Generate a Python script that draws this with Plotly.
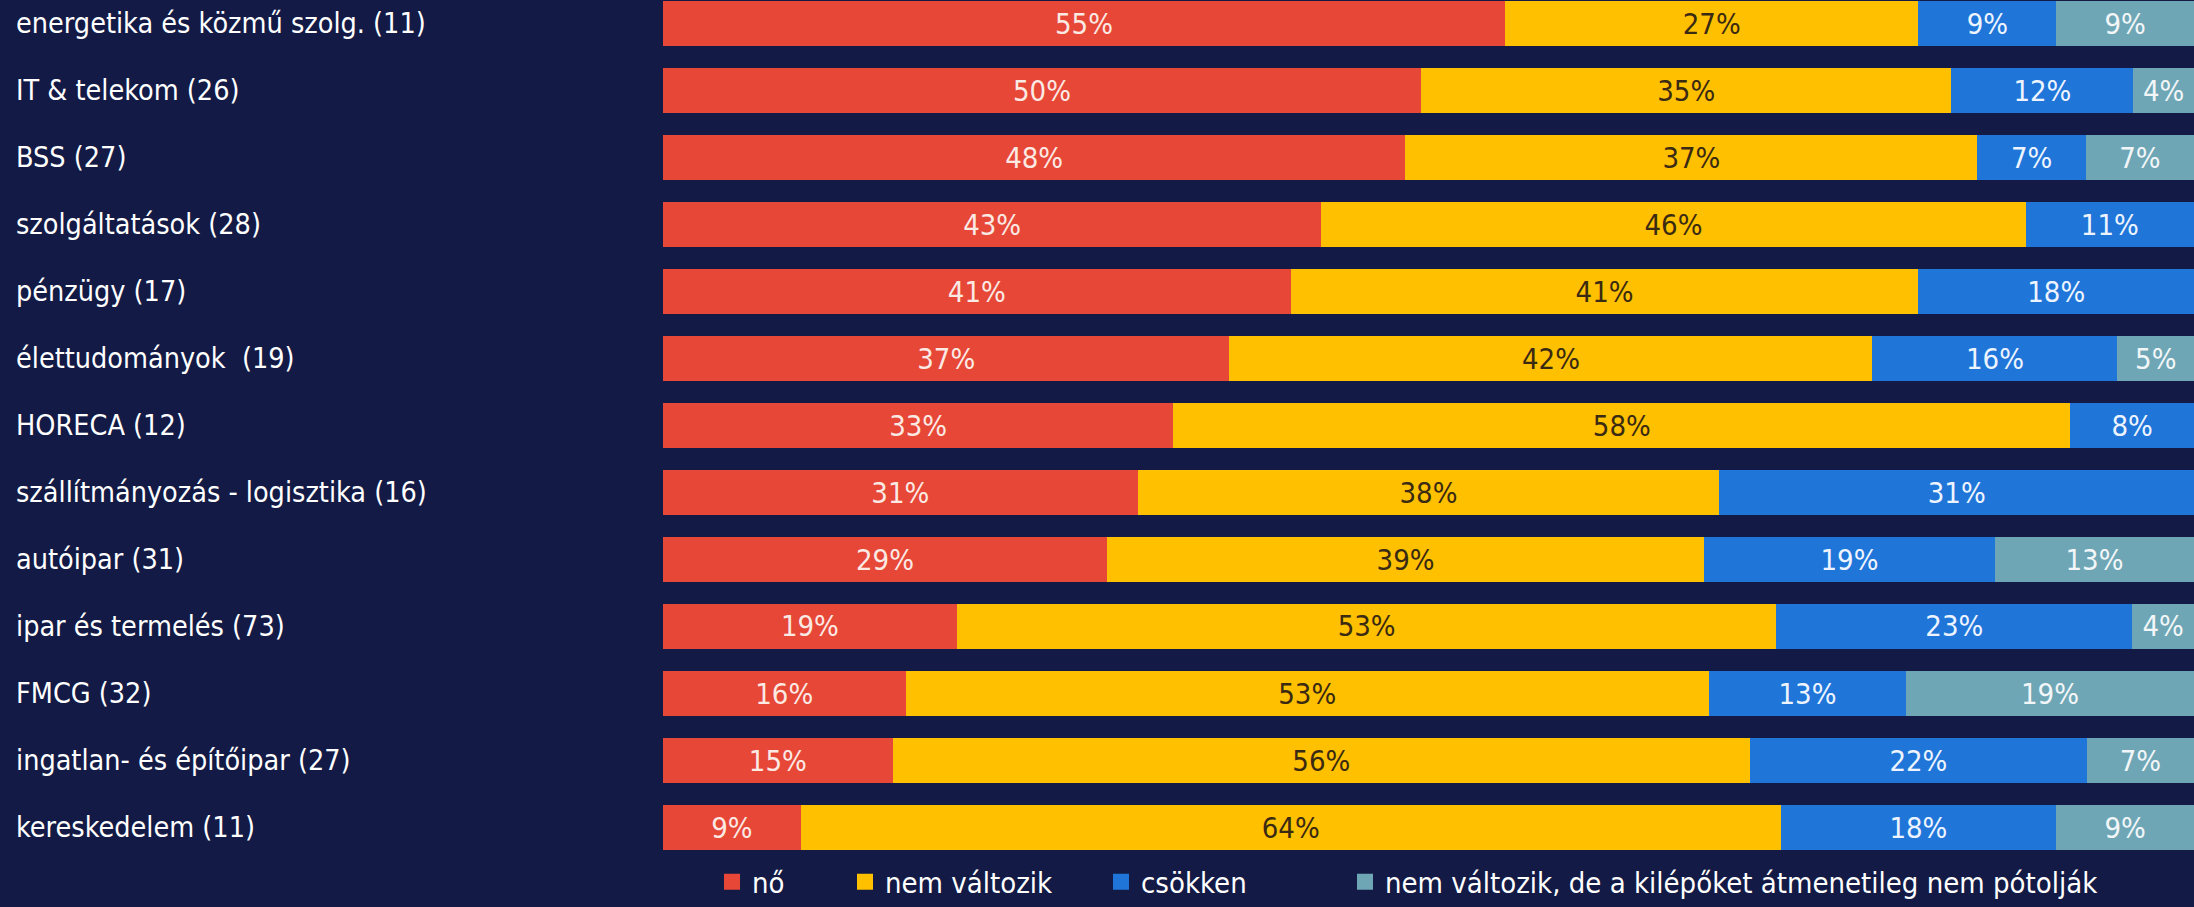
import plotly.graph_objects as go

categories = [
    "energetika és közmű szolg. (11)",
    "IT & telekom (26)",
    "BSS (27)",
    "szolgáltatások (28)",
    "pénzügy (17)",
    "élettudományok  (19)",
    "HORECA (12)",
    "szállítmányozás - logisztika (16)",
    "autóipar (31)",
    "ipar és termelés (73)",
    "FMCG (32)",
    "ingatlan- és építőipar (27)",
    "kereskedelem (11)",
]
series_names = ["nő", "nem változik", "csökken",
                "nem változik, de a kilépőket átmenetileg nem pótolják"]
no_vals = [55, 50, 48, 43, 41, 37, 33, 31, 29, 19, 16, 15, 9]
nem_valtozik = [27, 35, 37, 46, 41, 42, 58, 38, 39, 53, 53, 56, 64]
csokken = [9, 12, 7, 11, 18, 16, 8, 31, 19, 23, 13, 22, 18]
nem_potoljak = [9, 4, 7, 0, 0, 5, 0, 0, 13, 4, 19, 7, 9]

series_values = [no_vals, nem_valtozik, csokken, nem_potoljak]
colors = ["#e64736", "#ffc000", "#1f76d8", "#6ea6b5"]
text_colors = ["#fbe9e4", "#3a2a12", "#eef4ff", "#f2f6f8"]

BG = "#121a45"
BAR_FONT = "Liberation Sans Narrow, DejaVu Sans Condensed, Arial Narrow, sans-serif"
LABEL_FONT = "DejaVu Sans Condensed, DejaVu Sans, sans-serif"

fig = go.Figure()
legend_ids = ["legend", "legend2", "legend3", "legend4"]
for name, vals, col, tcol, lg in zip(series_names, series_values, colors, text_colors, legend_ids):
    fig.add_trace(go.Bar(
        y=categories, x=vals, name=name, orientation="h",
        marker=dict(color=col, line=dict(width=0)),
        text=[f"{v}%" if v > 0 else "" for v in vals],
        textposition="inside", insidetextanchor="middle",
        constraintext="none",
        textfont=dict(color=tcol, size=29, family=BAR_FONT),
        hoverinfo="skip",
        showlegend=False,
    ))
    # legend entry (larger square swatch)
    fig.add_trace(go.Scatter(
        x=[None], y=[None], mode="markers", name=name,
        marker=dict(color=col, symbol="square", size=22),
        hoverinfo="skip", legend=lg, showlegend=True,
    ))

# category labels (left aligned)
for c in categories:
    fig.add_annotation(x=-0.4238, xref="paper", y=c, yref="y",
                       text=c, showarrow=False, xanchor="left",
                       font=dict(color="#ffffff", size=28.5, family=LABEL_FONT))

PLOT_TOP, PLOT_BOTTOM = 0, 860
L_MARGIN = 663
W, H = 2194, 907
plot_h = PLOT_BOTTOM - PLOT_TOP
plot_w = W - L_MARGIN

legend_text_px = [753, 886, 1142, 1386]
leg_common = dict(orientation="h", yanchor="middle", xanchor="left",
                  bgcolor="rgba(0,0,0,0)", itemsizing="trace",
                  font=dict(color="#ffffff", size=29, family=BAR_FONT))
layout_legends = {}
for lg, tp in zip(legend_ids, legend_text_px):
    layout_legends[lg] = dict(leg_common, x=(tp - 41 - L_MARGIN) / plot_w,
                              y=(PLOT_BOTTOM - 882) / plot_h)

row_px = 67.0
first_center = 23.5
top_val = -(first_center - PLOT_TOP) / row_px
bottom_val = (PLOT_BOTTOM - first_center) / row_px

fig.update_layout(
    width=W, height=H,
    barmode="stack", barnorm="percent", bargap=0.33,
    paper_bgcolor=BG, plot_bgcolor=BG,
    margin=dict(l=L_MARGIN, r=0, t=PLOT_TOP, b=H - PLOT_BOTTOM, pad=0,
                autoexpand=False),
    xaxis=dict(range=[0, 100], visible=False, fixedrange=True),
    yaxis=dict(range=[bottom_val, top_val], showticklabels=False,
               showgrid=False, zeroline=False, fixedrange=True),
    uniformtext=dict(mode=False),
    **layout_legends,
)

fig.write_html("out.html")
